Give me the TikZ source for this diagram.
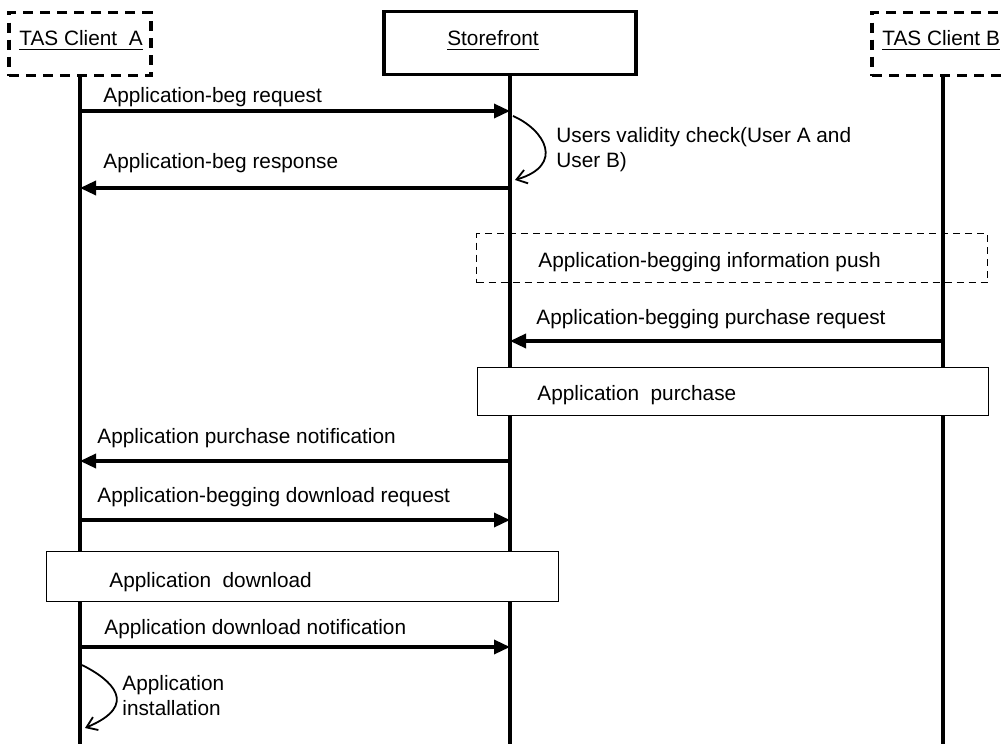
\documentclass[tikz,border=0pt]{standalone}
\usepackage{fontspec}
\setmainfont{Liberation Sans}
\usetikzlibrary{arrows.meta}
\usetikzlibrary{positioning}
\usetikzlibrary{calc}

\begin{document}
\begin{tikzpicture}[x=0.5pt,y=-0.5pt]
	\tikzstyle{every node}=[font=\fontsize{10.4}{12.5}\selectfont,inner sep=0pt]
	\tikzstyle{head}=[draw,line width=1.7pt,minimum height=31.5pt]
	\tikzstyle{client}=[head,dash pattern=on 5pt off 3.5pt,minimum width=71pt]
	\tikzstyle{life}=[line width=1.7pt]
	\tikzstyle{msg}=[line width=1.7pt,-{Triangle[length=8pt,width=7pt]}]
	\tikzstyle{self}=[line width=0.9pt,-{Straight Barb[length=5pt,width=7pt]}]
	\tikzstyle{txt}=[anchor=base west]
	\tikzstyle{phase}=[draw,line width=0.6pt,fill=white,anchor=north west]

	\clip (0,0) rectangle (1002,744);

	% participants
	\node (ca) [client] at (80,44) {};
	\node (sf) [head,minimum width=126pt] at (510,43) {};
	\node (cb) [client] at (943,44) {};
	\node (cat) [anchor=base] at (81,46) {\underline{TAS Client~ A}};
	\node (sft) [anchor=base] at (493,46) {\underline{Storefront}};
	\node (cbt) [anchor=base west] at (882,46) {\underline{TAS Client B}};

	% lifelines
	\coordinate (ea) at (80,744);
	\coordinate (es) at (510,744);
	\coordinate (eb) at (943,744);
	\draw[life] (ca.south) -- (ea);
	\draw[life] (sf.south) -- (es);
	\draw[life] (cb.south) -- (eb);

	% begging
	\coordinate (a1) at (80,111);   \coordinate (s1) at (510,111);
	\coordinate (s2) at (513,116);  \coordinate (s3) at (515,180);
	\coordinate (a4) at (80,188);   \coordinate (s4) at (510,188);
	\draw[msg] (a1) -- (s1);
	\draw[self] (s2) .. controls +(32,14) and +(50,-15) .. (s3);
	\draw[msg] (s4) -- (a4);
	\node (m1) [txt] at (103,102) {Application-beg request};
	\node (m2) [txt,align=left] at (556,167) {Users validity check(User A and\\User B)};
	\node (m3) [txt] at (103,168) {Application-beg response};

	% push and purchase
	\node (push) [draw,line width=0.7pt,dash pattern=on 3.5pt off 2.5pt,anchor=north west,minimum width=255.5pt,minimum height=24.5pt] at (476,233) {};
	\node (pusht) [txt] at (538,267) {Application-begging information push};
	\coordinate (b5) at (943,341);  \coordinate (s5) at (510,341);
	\draw[msg] (b5) -- (s5);
	\node (m4) [txt] at (536,324) {Application-begging purchase request};
	\node (buy) [phase,minimum width=255.5pt,minimum height=24pt] at (477,367) {};
	\node (buyt) [txt] at (537,400) {Application~ purchase};

	% download
	\coordinate (s6) at (510,461);  \coordinate (a6) at (80,461);
	\coordinate (a7) at (80,520);   \coordinate (s7) at (510,520);
	\draw[msg] (s6) -- (a6);
	\draw[msg] (a7) -- (s7);
	\node (m5) [txt] at (97,443) {Application purchase notification};
	\node (m6) [txt] at (97,502) {Application-begging download request};
	\node (get) [phase,minimum width=256pt,minimum height=25pt] at (46,551) {};
	\node (gett) [txt] at (109,587) {Application~ download};
	\coordinate (a8) at (80,647);   \coordinate (s8) at (510,647);
	\draw[msg] (a8) -- (s8);
	\node (m7) [txt] at (104,634) {Application download notification};

	% installation
	\coordinate (a9) at (82,665);   \coordinate (a10) at (85,728);
	\draw[self] (a9) .. controls +(30,15) and +(55,-23) .. (a10);
	\node (m8) [txt,align=left] at (122,715) {Application\\installation};
\end{tikzpicture}
\end{document}
